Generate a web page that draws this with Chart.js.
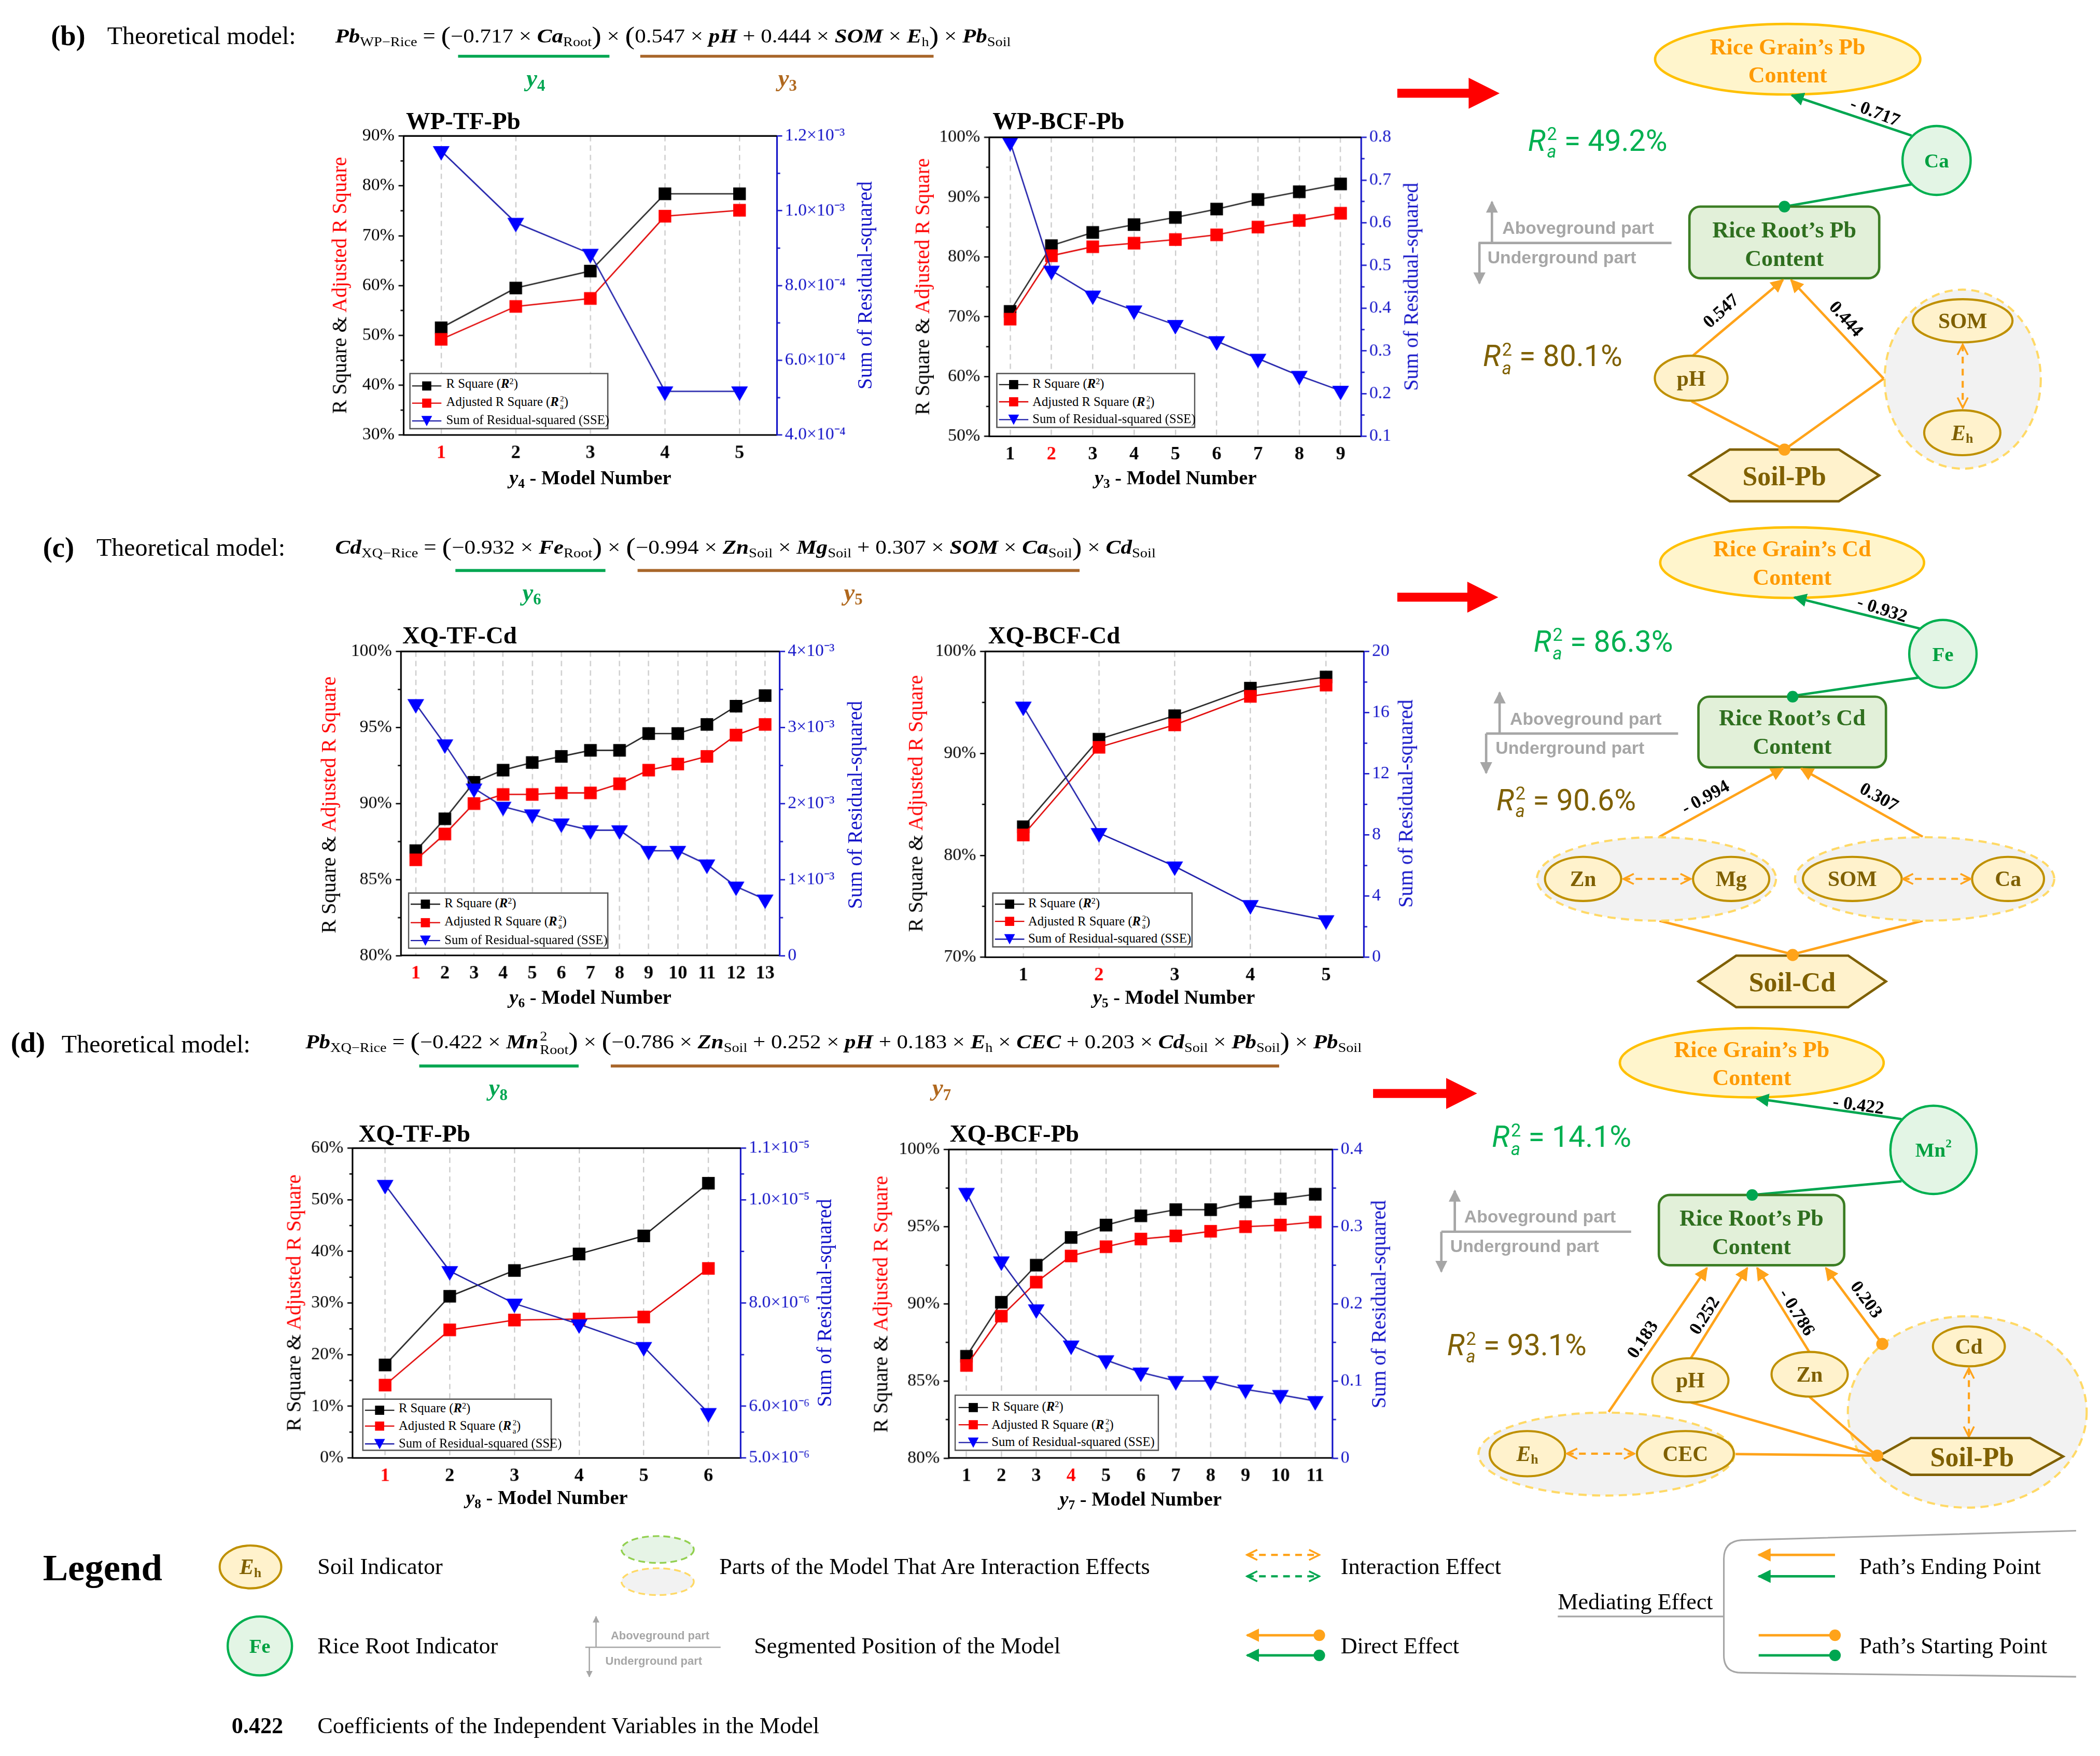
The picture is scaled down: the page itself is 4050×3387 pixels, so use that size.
<!DOCTYPE html>
<html><head><meta charset="utf-8">
<script src="https://cdn.jsdelivr.net/npm/chart.js@4.4.1/dist/chart.umd.min.js"></script>
<style>
html,body{margin:0;padding:0;background:#fff;width:4050px;height:3387px;overflow:hidden}
#stage{position:absolute;left:0;top:0;width:1560px;height:1305px;transform-origin:0 0;font-family:'Liberation Serif','Times New Roman',serif;color:#000}
.abs{position:absolute;white-space:nowrap;line-height:1}
canvas{position:absolute}
#dg{position:absolute;left:0;top:0;overflow:visible}
sub{font-size:0.66em;vertical-align:-0.28em;line-height:0}
sup{font-size:0.66em;vertical-align:0.45em;line-height:0}
.v{font-weight:bold;font-style:italic}
.p{font-size:1.3em;vertical-align:-0.06em}
.ss{display:inline-flex;flex-direction:column;font-size:0.6em;line-height:1.05;vertical-align:0.6em;margin-left:1px;text-align:left}
.lg{position:absolute;border:0.8px solid #555;background:#fff;box-sizing:border-box}
.lrow{position:absolute;left:1.2px;display:flex;align-items:center;font-size:9.5px;line-height:1;white-space:nowrap;transform:translateY(-50%)}
.lrow svg{margin-right:3px;flex:none}
.r2{font-family:Roboto,'Liberation Sans',sans-serif;font-size:22px}
</style></head>
<body><div id="stage"><svg id="dg" width="1560" height="1305" viewBox="0 0 1560 1305">
<defs>
<marker id="mO" viewBox="0 0 10 10" refX="9" refY="5" markerWidth="5.5" markerHeight="5.5" orient="auto-start-reverse"><path d="M0,0L10,5L0,10z" fill="#ffa31a"/></marker>
<marker id="mG" viewBox="0 0 10 10" refX="9" refY="5" markerWidth="5.5" markerHeight="5.5" orient="auto-start-reverse"><path d="M0,0L10,5L0,10z" fill="#00a650"/></marker>
<marker id="mGr" viewBox="0 0 10 10" refX="9" refY="5" markerWidth="5" markerHeight="5" orient="auto-start-reverse"><path d="M0,0L10,5L0,10z" fill="#a6a6a6"/></marker>
<marker id="cO" viewBox="0 0 10 10" refX="9" refY="5" markerWidth="6" markerHeight="6" orient="auto-start-reverse"><path d="M1,1L9,5L1,9" fill="none" stroke="#ffa31a" stroke-width="1.4"/></marker>
<marker id="cG" viewBox="0 0 10 10" refX="9" refY="5" markerWidth="6" markerHeight="6" orient="auto-start-reverse"><path d="M1,1L9,5L1,9" fill="none" stroke="#00a650" stroke-width="1.4"/></marker>
</defs>
</svg></div>
<script>
// ================= DATA =================
const b1Models=['1','2','3','4','5'];
const b1R2=[51.5,59.5,62.9,78.4,78.4];
const b1AdjR2=[49.2,55.8,57.4,73.9,75.1];
const b1SSE=[1.16e-3,9.68e-4,8.85e-4,5.17e-4,5.17e-4];
const b1LeftTicks=[30,40,50,60,70,80,90];
const b1RightTicks=[4e-4,6e-4,8e-4,1e-3,1.2e-3];
const b1RightLabels=['4.0×10⁻⁴','6.0×10⁻⁴','8.0×10⁻⁴','1.0×10⁻³','1.2×10⁻³'];

const b2Models=['1','2','3','4','5','6','7','8','9'];
const b2R2=[70.9,81.9,84.1,85.4,86.6,88.0,89.6,90.9,92.2];
const b2AdjR2=[69.6,80.2,81.7,82.3,82.9,83.7,85.0,86.1,87.3];
const b2SSE=[0.789,0.488,0.430,0.395,0.361,0.323,0.282,0.242,0.207];
const b2LeftTicks=[50,60,70,80,90,100];
const b2RightTicks=[0.1,0.2,0.3,0.4,0.5,0.6,0.7,0.8];
const b2RightLabels=['0.1','0.2','0.3','0.4','0.5','0.6','0.7','0.8'];

const c1Models=['1','2','3','4','5','6','7','8','9','10','11','12','13'];
const c1R2=[86.9,89.0,91.4,92.2,92.7,93.1,93.5,93.5,94.6,94.6,95.2,96.4,97.1];
const c1AdjR2=[86.3,88.0,90.0,90.6,90.6,90.7,90.7,91.3,92.2,92.6,93.1,94.5,95.2];
const c1SSE=[3.31e-3,2.78e-3,2.20e-3,1.96e-3,1.86e-3,1.74e-3,1.65e-3,1.65e-3,1.38e-3,1.38e-3,1.20e-3,0.91e-3,0.74e-3];
const c1LeftTicks=[80,85,90,95,100];
const c1RightTicks=[0,1e-3,2e-3,3e-3,4e-3];
const c1RightLabels=['0','1×10⁻³','2×10⁻³','3×10⁻³','4×10⁻³'];

const c2Models=['1','2','3','4','5'];
const c2R2=[82.8,91.4,93.7,96.4,97.5];
const c2AdjR2=[82.0,90.6,92.8,95.6,96.7];
const c2SSE=[16.4,8.13,5.95,3.42,2.43];
const c2LeftTicks=[70,80,90,100];
const c2RightTicks=[0,4,8,12,16,20];
const c2RightLabels=['0','4','8','12','16','20'];

const d1Models=['1','2','3','4','5','6'];
const d1R2=[18.0,31.3,36.3,39.5,43.0,53.2];
const d1AdjR2=[14.1,24.8,26.7,26.9,27.3,36.7];
const d1SSE=[10.29e-6,8.62e-6,7.99e-6,7.59e-6,7.15e-6,5.87e-6];
const d1LeftTicks=[0,10,20,30,40,50,60];
const d1RightTicks=[5e-6,6e-6,8e-6,1e-5,1.1e-5];
const d1RightLabels=['5.0×10⁻⁶','6.0×10⁻⁶','8.0×10⁻⁶','1.0×10⁻⁵','1.1×10⁻⁵'];

const d2Models=['1','2','3','4','5','6','7','8','9','10','11'];
const d2R2=[86.6,90.1,92.5,94.3,95.1,95.7,96.1,96.1,96.6,96.8,97.1];
const d2AdjR2=[86.0,89.2,91.4,93.1,93.7,94.2,94.4,94.7,95.0,95.1,95.3];
const d2SSE=[0.344,0.255,0.193,0.146,0.127,0.111,0.100,0.100,0.089,0.082,0.074];
const d2LeftTicks=[80,85,90,95,100];
const d2RightTicks=[0,0.1,0.2,0.3,0.4];
const d2RightLabels=['0','0.1','0.2','0.3','0.4'];

const chartTitles=['WP-TF-Pb','WP-BCF-Pb','XQ-TF-Cd','XQ-BCF-Cd','XQ-TF-Pb','XQ-BCF-Pb'];
const modelSubs=['4','3','6','5','8','7'];
const selectedModel=[0,1,0,1,0,3];

// ================= SETUP =================
const SC=4050/1560;
const KF=0.995;
const stage=document.getElementById('stage');
stage.style.transform='scale('+SC+')';
const svg=document.getElementById('dg');
const NS='http://www.w3.org/2000/svg';
const SERIF="'Liberation Serif','Times New Roman',serif";
const BLUE='#1414c8';
const OR='#ffa31a', GR='#00a650';
let curParent=null;

function addText(html,x,y,css,anchor,rot){
  const d=document.createElement('div'); d.className='abs'; d.innerHTML=html;
  d.style.left=x+'px'; d.style.top=y+'px';
  let tf=anchor==='c'?'translate(-50%,-50%)':anchor==='r'?'translate(-100%,-50%)':'translateY(-50%)';
  if(rot) tf+=' rotate('+rot+'deg)';
  d.style.transform=tf; Object.assign(d.style,css||{}); stage.appendChild(d); return d;
}
function sv(tag,a,parent){const e=document.createElementNS(NS,tag);for(const k in a){if(a[k]!==undefined&&a[k]!==null)e.setAttribute(k,a[k]);}(parent||curParent||svg).appendChild(e);return e;}

// ================= CHARTS =================
const specs=[
 {models:b1Models,r2:b1R2,adj:b1AdjR2,sse:b1SSE,lt:b1LeftTicks,rt:b1RightTicks,rl:b1RightLabels},
 {models:b2Models,r2:b2R2,adj:b2AdjR2,sse:b2SSE,lt:b2LeftTicks,rt:b2RightTicks,rl:b2RightLabels},
 {models:c1Models,r2:c1R2,adj:c1AdjR2,sse:c1SSE,lt:c1LeftTicks,rt:c1RightTicks,rl:c1RightLabels},
 {models:c2Models,r2:c2R2,adj:c2AdjR2,sse:c2SSE,lt:c2LeftTicks,rt:c2RightTicks,rl:c2RightLabels},
 {models:d1Models,r2:d1R2,adj:d1AdjR2,sse:d1SSE,lt:d1LeftTicks,rt:d1RightTicks,rl:d1RightLabels},
 {models:d2Models,r2:d2R2,adj:d2AdjR2,sse:d2SSE,lt:d2LeftTicks,rt:d2RightTicks,rl:d2RightLabels}
];
const layouts=[
 {L:300,R:577,T:101,B:323.3,tx:301.6,ty:90,lt:251.8,rt:642.3,xy:354.8,lg:[304.3,451.7,277,318.7]},
 {L:735,R:1011.6,T:101.5,B:324,tx:737.3,ty:90,lt:685.3,rt:1047.7,xy:355,lg:[739.8,887.6,276.7,317.8]},
 {L:297.6,R:579.5,T:484.3,B:710.8,tx:298.9,ty:471.5,lt:244.3,rt:635,xy:740.8,lg:[303,452.3,662.9,704.6]},
 {L:731.6,R:1012.6,T:483.7,B:710.8,tx:734.1,ty:471.5,lt:680.2,rt:1044,xy:741,lg:[736.6,885.9,662.5,704.1]},
 {L:262,R:550.3,T:853.2,B:1083.4,tx:266.4,ty:842.3,lt:218.4,rt:611.7,xy:1112.6,lg:[269,410.2,1038.5,1078.2]},
 {L:704.8,R:989.8,T:853.6,B:1083.4,tx:705.6,ty:842.3,lt:654.4,rt:1023.5,xy:1113.5,lg:[709.4,860.6,1036.1,1078.2]}
];

const framePlugin={id:'frame',afterDraw(chart){
  const {ctx,chartArea:a}=chart; ctx.save();
  ctx.strokeStyle='#000'; ctx.lineWidth=1.2; ctx.beginPath(); ctx.moveTo(a.left-0.6,a.top); ctx.lineTo(a.right,a.top); ctx.stroke();
  [['y','#000',-1],['y2',BLUE,1]].forEach(([id,col,dir])=>{
    const s=chart.scales[id]; const v=s.ticks.map(t=>t.value);
    ctx.strokeStyle=col; ctx.lineWidth=1;
    for(let i=0;i<v.length-1;i++){
      const py=s.getPixelForValue((v[i]+v[i+1])/2); const x=dir<0?a.left:a.right;
      ctx.beginPath(); ctx.moveTo(x,py); ctx.lineTo(x+dir*2.5,py); ctx.stroke();
    }
  });
  ctx.restore();
}};

function makeChart(sp,ly,sel){
  const LW=60,RW=70,TP=14,BH=30;
  const cv=document.createElement('canvas');
  const w=(ly.R-ly.L)+LW+RW, h=(ly.B-ly.T)+TP+BH;
  cv.width=w; cv.height=h; cv.style.left=(ly.L-LW)+'px'; cv.style.top=(ly.T-TP)+'px';
  stage.appendChild(cv);
  const pt={pointHoverRadius:6.2,tension:0,borderWidth:1,pointBorderWidth:0.6};
  new Chart(cv,{type:'line',
   data:{labels:sp.models,datasets:[
    Object.assign({data:sp.r2,yAxisID:'y',borderColor:'#222',pointBackgroundColor:'#000',pointBorderColor:'#000',pointStyle:'rect',pointRadius:6.2,order:2},pt),
    Object.assign({data:sp.adj,yAxisID:'y',borderColor:'#e00000',pointBackgroundColor:'#ff0000',pointBorderColor:'#ff0000',pointStyle:'rect',pointRadius:6.2,order:1},pt),
    Object.assign({data:sp.sse,yAxisID:'y2',borderColor:'#1c1ca8',pointBackgroundColor:'#0000ff',pointBorderColor:'#0000ff',pointStyle:'triangle',pointRotation:180,pointRadius:6.6,order:0},pt)
   ]},
   options:{responsive:false,animation:false,devicePixelRatio:2.6,events:[],
    layout:{padding:{top:TP,left:0,right:0,bottom:0}},
    plugins:{legend:{display:false},tooltip:{enabled:false},title:{display:false}},
    scales:{
     x:{type:'category',offset:true,
       grid:{offset:false,color:'#c4c4c4',lineWidth:0.8,drawTicks:false},
       border:{display:true,color:'#000',width:1.2,dash:[4,3]},
       ticks:{padding:5,autoSkip:false,maxRotation:0,font:{family:SERIF,size:14,weight:'bold'},color:c=>c.index===sel?'#ff0000':'#000'},
       afterFit:s=>{s.height=BH;}},
     y:{position:'left',min:sp.lt[0],max:sp.lt[sp.lt.length-1],
       afterBuildTicks:s=>{s.ticks=sp.lt.map(v=>({value:v}));},
       ticks:{padding:3,font:{family:SERIF,size:13},color:'#000',callback:v=>v+'%'},
       grid:{drawOnChartArea:false,drawTicks:true,tickLength:4,color:'#000',lineWidth:1},
       border:{display:true,color:'#000',width:1.2},
       afterFit:s=>{s.width=LW;}},
     y2:{position:'right',min:sp.rt[0],max:sp.rt[sp.rt.length-1],
       afterBuildTicks:s=>{s.ticks=sp.rt.map(v=>({value:v}));},
       ticks:{padding:2,font:{family:SERIF,size:13},color:BLUE,callback:(v,i)=>sp.rl[i]},
       grid:{drawOnChartArea:false,drawTicks:true,tickLength:4,color:BLUE,lineWidth:1},
       border:{display:true,color:BLUE,width:1.2},
       afterFit:s=>{s.width=RW;}}
    }},
   plugins:[framePlugin]});
}

const ICON_SQ=(f,l)=>`<svg width="22" height="9" viewBox="0 0 22 9"><line x1="0" y1="4.5" x2="22" y2="4.5" stroke="${l}" stroke-width="0.9"/><rect x="7.6" y="1.1" width="6.8" height="6.8" fill="${f}"/></svg>`;
const ICON_TRI=`<svg width="22" height="9" viewBox="0 0 22 9"><line x1="0" y1="4.5" x2="22" y2="4.5" stroke="#1c1ca8" stroke-width="0.9"/><polygon points="7,0.8 15,0.8 11,8.4" fill="#0000ff"/></svg>`;

function chartLegend(lb){
  const [l,r,t,b]=lb; const d=document.createElement('div'); d.className='lg';
  Object.assign(d.style,{left:l+'px',top:t+'px',width:(r-l)+'px',height:(b-t)+'px'});
  const H=b-t;
  const rows=[[ICON_SQ('#000','#222'),'R Square (<b><i>R</i></b><sup>2</sup>)'],
   [ICON_SQ('#ff0000','#e00000'),'Adjusted R Square (<b><i>R</i></b><span class="ss"><span>2</span><span>a</span></span>)'],
   [ICON_TRI,'Sum of Residual-squared (SSE)']];
  const fr=[0.2,0.51,0.835];
  rows.forEach((rw,i)=>{const e=document.createElement('div'); e.className='lrow'; e.style.top=(H*fr[i])+'px'; e.innerHTML=rw[0]+'<span>'+rw[1]+'</span>'; d.appendChild(e);});
  stage.appendChild(d);
}

specs.forEach((sp,i)=>{
  const ly=layouts[i];
  makeChart(sp,ly,selectedModel[i]);
  chartLegend(ly.lg);
  addText(chartTitles[i],ly.tx,ly.ty,{fontWeight:'bold',fontSize:'18px'},'l');
  addText('R Square &amp; <span style="color:#ff0000">Adjusted R Square</span>',ly.lt,(ly.T+ly.B)/2,{fontSize:'15.3px'},'c',-90);
  addText('Sum of Residual-squared',ly.rt,(ly.T+ly.B)/2,{fontSize:'15.3px',color:BLUE},'c',-90);
  addText('<i>y</i><sub>'+modelSubs[i]+'</sub> - Model Number',(ly.L+ly.R)/2,ly.xy,{fontWeight:'bold',fontSize:'14.8px'},'c');
});

// ================= FORMULAS =================
function fitText(html,x,y,w,css){
  const d=addText(html,x,y,css,'l');
  const k=w/d.offsetWidth; d.style.transformOrigin='0 50%'; d.style.transform='translateY(-50%) scaleX('+k+')';
  return d;
}
const V=s=>'<i class="v">'+s+'</i>';
const P=s=>'<span class="p">'+s+'</span>';
const fb=V('Pb')+'<sub>WP−Rice</sub> = '+P('(')+'−0.717 × '+V('Ca')+'<sub>Root</sub>'+P(')')+' × '+P('(')+'0.547 × '+V('pH')+' + 0.444 × '+V('SOM')+' × '+V('E')+'<sub>h</sub>'+P(')')+' × '+V('Pb')+'<sub>Soil</sub>';
const fc=V('Cd')+'<sub>XQ−Rice</sub> = '+P('(')+'−0.932 × '+V('Fe')+'<sub>Root</sub>'+P(')')+' × '+P('(')+'−0.994 × '+V('Zn')+'<sub>Soil</sub> × '+V('Mg')+'<sub>Soil</sub> + 0.307 × '+V('SOM')+' × '+V('Ca')+'<sub>Soil</sub>'+P(')')+' × '+V('Cd')+'<sub>Soil</sub>';
const fd=V('Pb')+'<sub>XQ−Rice</sub> = '+P('(')+'−0.422 × '+V('Mn')+'<span class="ss" style="font-size:0.66em"><span>2</span><span>Root</span></span>'+P(')')+' × '+P('(')+'−0.786 × '+V('Zn')+'<sub>Soil</sub> + 0.252 × '+V('pH')+' + 0.183 × '+V('E')+'<sub>h</sub> × '+V('CEC')+' + 0.203 × '+V('Cd')+'<sub>Soil</sub> × '+V('Pb')+'<sub>Soil</sub>'+P(')')+' × '+V('Pb')+'<sub>Soil</sub>';
const rows=[
 {lab:'(b)',lx:38,tx:80,y:27,fx:250,fw:505,f:fb,gu:[342,455],bu:[478,697],uy:42,g:['4',400],b:['3',588],yy:58},
 {lab:'(c)',lx:32,tx:72,y:409,fx:250,fw:613,f:fc,gu:[340,452],bu:[476,806],uy:426,g:['6',397],b:['5',637],yy:442},
 {lab:'(d)',lx:8,tx:46,y:779,fx:228,fw:788,f:fd,gu:[313,432],bu:[456,955],uy:796,g:['8',372],b:['7',703],yy:812}
];
rows.forEach(r=>{
  const k=KF;
  addText(r.lab,r.lx*k,r.y*k,{fontWeight:'bold',fontSize:'21px'},'l');
  addText('Theoretical model:',r.tx*k,r.y*k+0.5,{fontSize:'18.5px'},'l');
  fitText(r.f,r.fx*k,r.y*k,r.fw*k,{fontSize:'14.5px'});
  sv('line',{x1:r.gu[0]*k,y1:r.uy*k,x2:r.gu[1]*k,y2:r.uy*k,stroke:'#00a651','stroke-width':2.2});
  sv('line',{x1:r.bu[0]*k,y1:r.uy*k,x2:r.bu[1]*k,y2:r.uy*k,stroke:'#a8662a','stroke-width':2.2});
  addText('<i>y</i><sub>'+r.g[0]+'</sub>',r.g[1]*k,r.yy*k,{fontWeight:'bold',fontSize:'18px',color:'#00a651'},'c');
  addText('<i>y</i><sub>'+r.b[0]+'</sub>',r.b[1]*k,r.yy*k,{fontWeight:'bold',fontSize:'18px',color:'#b0681e'},'c');
});

// ================= DIAGRAMS =================
function E(cx,cy,rx,ry,fill,stroke,sw,dash){return sv('ellipse',{cx,cy,rx,ry,fill,stroke,'stroke-width':sw||1.6,'stroke-dasharray':dash});}
function L(x1,y1,x2,y2,stroke,sw,o){o=o||{};return sv('line',{x1,y1,x2,y2,stroke,'stroke-width':sw||1.7,'stroke-dasharray':o.dash,'marker-end':o.end?'url(#'+o.end+')':null,'marker-start':o.start?'url(#'+o.start+')':null});}
function Dot(x,y,r,fill){return sv('circle',{cx:x,cy:y,r:r||4.3,fill});}
function TX(x,y,html,size,fill,o){o=o||{};const t=sv('text',{x,y,'font-size':size,fill,'font-family':o.ff||SERIF,'font-weight':o.fw||'bold','text-anchor':o.anchor||'middle','dominant-baseline':'central','font-style':o.fs,transform:o.rot!=null?'rotate('+o.rot+' '+x+' '+y+')':null});t.innerHTML=html;return t;}
function Poly(pts,fill,stroke,sw){return sv('polygon',{points:pts.map(p=>p.join(',')).join(' '),fill,stroke,'stroke-width':sw});}
function RA(x0,tip,cy){Poly([[x0,cy-3.3],[tip-23,cy-3.3],[tip-23,cy-11.5],[tip,cy],[tip-23,cy+11.5],[tip-23,cy+3.3],[x0,cy+3.3]],'#ff0000');}
const YF='#fff2cc',YS='#bf9000',BR='#7f6000',GF='#e3f5e5',GS='#00b050';
function soilE(cx,cy,rx,ry,label,size){E(cx,cy,rx,ry,YF,YS,1.6);TX(cx,cy,label,size||16,BR);}
function greenE(cx,cy,rx,ry,label,size){E(cx,cy,rx,ry,GF,GS,1.7);TX(cx,cy,label,size||15,'#00a040');}
function grain(cx,cy,rx,ry,l1,y1,y2){E(cx,cy,rx,ry,'#fff5cc','#ffc000',1.8);TX(cx,y1,l1,17,'#ff9a00');TX(cx,y2,'Content',17,'#ff9a00');}
function root(x1,y1,x2,y2,l1,t1,t2){sv('rect',{x:x1,y:y1,width:x2-x1,height:y2-y1,rx:8,fill:'#e2f0d9',stroke:'#3b7d23','stroke-width':1.8});const cx=(x1+x2)/2;TX(cx,t1,l1,17,'#2f6f1f');TX(cx,t2,'Content',17,'#2f6f1f');}
function hex(x1,x2,y1,y2,inset,label,cx){const cy=(y1+y2)/2;Poly([[x1,cy],[x1+inset,y1],[x2-inset,y1],[x2,cy],[x2-inset,y2],[x1+inset,y2]],YF,BR,1.8);TX(cx||(x1+x2)/2,cy+0.5,label,20,BR);}
function group(cx,cy,rx,ry){E(cx,cy,rx,ry,'#f2f2f2','#ffd966',1.6,'6 4');}
function IND(o){const c='#a6a6a6',sw=o.sw||1.8;
  L(o.up,o.y,o.up,o.top,c,sw,{end:'mGr'});L(o.x1,o.y,o.x2,o.y,c,sw);L(o.down,o.y,o.down,o.bot,c,sw,{end:'mGr'});
  TX(o.a[0],o.a[1],'Aboveground part',o.fs||13,c,{anchor:'start',ff:"'Liberation Sans',Arial,sans-serif"});
  TX(o.u[0],o.u[1],'Underground part',o.fs||13,c,{anchor:'start',ff:"'Liberation Sans',Arial,sans-serif"});}
const EH='<tspan font-style="italic">E</tspan><tspan font-size="10" dy="4">h</tspan>';
function coef(x,y,s,rot){TX(x,y,s,13.5,'#000',{rot});}
function R2(x,y,val,color){addText('<span style="font-style:italic">R</span><span class="ss"><span>2</span><span style="font-style:italic">a</span></span> = '+val,x,y,{color},'l').classList.add('r2');}

// ---- (b)
RA(1038,1114,69.3);
grain(1328,44,98.5,26.2,'Rice Grain’s Pb',35,55.5);
L(1420,100.7,1331,70.8,GR,1.8,{end:'mG'});
coef(1393,83,'- 0.717',21);
greenE(1438.6,119.2,25.3,25.6,'Ca');
L(1420,137,1325.6,153.5,GR,1.8);
root(1255,153.5,1396,206.7,'Rice Root’s Pb',171,192.2);
Dot(1325.6,153.5,4.3,GR);
R2(1135,106.5,'49.2%','#00b050');
IND({up:1108.3,down:1099,y:180.5,top:150,bot:210.5,x1:1098.3,x2:1241.7,a:[1116,169.2],u:[1105,191]});
R2(1101.6,267.2,'80.1%','#7f6000');
group(1458,281.7,58,66.5);
L(1257.3,264.4,1324.5,208,OR,1.8,{end:'mO'});
coef(1278.3,230.9,'0.547',-42);
L(1399.3,281.3,1330.5,208,OR,1.8,{end:'mO'});
coef(1371.6,236.7,'0.444',48);
L(1256.6,298.2,1325.6,334,OR,1.8);
L(1399.3,281.3,1325.6,334,OR,1.8);
soilE(1256.3,281,27,16.7,'pH');
soilE(1458,238.3,37,16,'SOM');
soilE(1457.7,321.5,28.3,16.7,EH);
L(1458,256,1458,303,OR,1.6,{dash:'5 4',start:'cO',end:'cO'});
hex(1255,1396,334,372.4,30,'Soil-Pb');
Dot(1325.6,334,4.5,OR);

// ---- (c)
RA(1038,1113,443.7);
grain(1331.3,418,98,26.2,'Rice Grain’s Cd',407.8,428.9);
L(1426.7,467.1,1333,443.8,GR,1.8,{end:'mG'});
coef(1398.3,452.4,'- 0.932',18);
greenE(1443.3,485.8,25,25.2,'Fe');
L(1425,503.5,1331.7,517,GR,1.8);
root(1261.7,517.6,1401,570.1,'Rice Root’s Cd',533.3,554.4);
Dot(1331.7,517.6,4.3,GR);
R2(1139.3,479.3,'86.3%','#00b050');
IND({up:1114,down:1104,y:545,top:514.5,bot:574.3,x1:1104,x2:1246.6,a:[1121.7,533.8],u:[1111,555.6]});
R2(1111.7,596.6,'90.6%','#7f6000');
L(1232.7,621.7,1324.5,571,OR,1.8,{end:'mO'});
L(1428.3,621.7,1338,571,OR,1.8,{end:'mO'});
coef(1266.7,592,'- 0.994',-29);
coef(1396,592,'0.307',29);
L(1232.7,684.1,1331.7,709,OR,1.8);
L(1428.3,684.1,1331.7,709,OR,1.8);
group(1230.5,653,88.8,31);
group(1429.7,653,96.3,31);
soilE(1176,653,28.3,16.4,'Zn');
soilE(1286,653,28.3,16.4,'Mg');
soilE(1376,653,36.7,16.4,'SOM');
soilE(1491.7,653,26.7,16.4,'Ca');
L(1206,653,1256,653,OR,1.6,{dash:'5 4',start:'cO',end:'cO'});
L(1413.5,653,1464,653,OR,1.6,{dash:'5 4',start:'cO',end:'cO'});
hex(1261.7,1401,710,748.3,28,'Soil-Cd');
Dot(1331.7,709.5,4.5,OR);

// ---- (d)
RA(1020,1097.3,812.4);
grain(1301.3,789.6,98,25.7,'Rice Grain’s Pb',779.7,800.6);
L(1412.6,831.4,1305,816.2,GR,1.8,{end:'mG'});
coef(1380.6,820.7,'- 0.422',8);
greenE(1436.3,854.3,32,32.8,'Mn<tspan font-size="9" dy="-5">2</tspan>',15);
L(1412.6,877.6,1301.6,887.8,GR,1.8);
root(1232.3,887.8,1370,940,'Rice Root’s Pb',904.9,926.2);
Dot(1301.6,887.8,4.3,GR);
R2(1108.3,846.8,'14.1%','#00b050');
IND({up:1080.7,down:1070.7,y:915.1,top:884.7,bot:944.7,x1:1070.7,x2:1211.7,a:[1087.7,903.7],u:[1077.3,925.5]});
R2(1075,1001.6,'93.1%','#7f6000');
group(1461.4,1049,88.7,71.1);
group(1193.3,1080.3,95,30.8);
L(1195,1049,1268,942,OR,1.8,{end:'mO'});
L(1256,1009.2,1298,942,OR,1.8,{end:'mO'});
L(1344,1004.4,1305.3,942,OR,1.8,{end:'mO'});
L(1398.3,998.5,1356.3,942,OR,1.8,{end:'mO'});
Dot(1398.3,998.5,4.5,OR);
coef(1220,995,'0.183',-56);
coef(1266,977.2,'0.252',-58);
coef(1335,974.8,'- 0.786',58);
coef(1386.7,965.3,'0.203',54);
L(1256,1041.9,1394,1081.5,OR,1.8);
L(1344,1037.6,1394,1081.5,OR,1.8);
L(1289.3,1080.3,1394,1081.5,OR,1.8);
soilE(1255.7,1025.5,28.3,16.4,'pH');
soilE(1344.3,1021,28.3,16.6,'Zn');
soilE(1134.6,1080,28,16.8,EH);
soilE(1252,1080,36,16.8,'CEC');
L(1164,1080,1214,1080,OR,1.6,{dash:'5 4',start:'cO',end:'cO'});
soilE(1462.6,1000.3,26.7,14.8,'Cd');
L(1462.6,1016.5,1462.6,1067.5,OR,1.6,{dash:'5 4',start:'cO',end:'cO'});
hex(1395,1532.6,1068.4,1095.7,24.5,'Soil-Pb',1465);
Dot(1394.5,1081.5,4.5,OR);

// ================= BOTTOM LEGEND =================
curParent=sv('g',{transform:'scale('+KF+')'},svg);
const LT=(h,x,y,css)=>addText(h,x*KF,y*KF,Object.assign({fontSize:'17px'},css||{}),'l');
LT('Legend',32,1171,{fontWeight:'bold',fontSize:'28px'});
soilE(187,1170,23,16,EH);
LT('Soil Indicator',237,1170);
greenE(194,1229,24,22,'Fe');
LT('Rice Root Indicator',237,1229);
LT('<b>0.422</b>',173,1288);
LT('Coefficients of the Independent Variables in the Model',237,1288);
E(491,1157,27,10,'#e6f4e6','#92d050',1.3,'5 3');
E(491,1181,27,10,'#f2f2f2','#ffd966',1.3,'5 3');
LT('Parts of the Model That Are Interaction Effects',537,1170);
IND({up:445,down:440,y:1230,top:1207,bot:1252,x1:437,x2:538,a:[456,1221],u:[452,1240],fs:8.5,sw:1});
LT('Segmented Position of the Model',563,1229);
L(931,1161,985,1161,OR,1.6,{dash:'5 4',start:'cO',end:'cO'});
L(931,1177,985,1177,GR,1.6,{dash:'5 4',start:'cG',end:'cG'});
LT('Interaction Effect',1001,1170);
L(931,1221,985,1221,OR,1.8,{start:'mO'}); Dot(985,1221,4.3,OR);
L(931,1236,985,1236,GR,1.8,{start:'mG'}); Dot(985,1236,4.3,GR);
LT('Direct Effect',1001,1229);
sv('path',{d:'M1550,1143 L1300,1150 Q1287,1151 1287,1164 L1287,1236 Q1287,1249 1300,1249 L1550,1252',fill:'none',stroke:'#a6a6a6','stroke-width':1.2});
L(1163,1207,1287,1207,'#a6a6a6',1.2);
LT('Mediating Effect',1163,1196);
L(1313,1161,1370,1161,OR,1.8,{start:'mO'});
L(1313,1177,1370,1177,GR,1.8,{start:'mG'});
LT('Path’s Ending Point',1388,1170);
L(1313,1221,1370,1221,OR,1.8); Dot(1370,1221,4.3,OR);
L(1313,1236,1370,1236,GR,1.8); Dot(1370,1236,4.3,GR);
LT('Path’s Starting Point',1388,1229);
curParent=null;
</script></body></html>
